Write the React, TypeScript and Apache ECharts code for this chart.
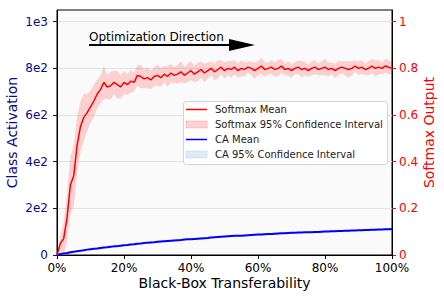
import React, { useEffect, useRef } from "react";
import * as echarts from "echarts";

// Black-box transferability (%), one sample per percent
const transferPct: number[] = Array.from({ length: 101 }, (_, i) => i);

// Softmax output mean (right axis)
const softmaxMean: number[] = [
  0, 0.05, 0.07, 0.16, 0.3, 0.34, 0.47, 0.55, 0.59, 0.61,
  0.635, 0.66, 0.69, 0.71, 0.74, 0.72, 0.725, 0.74, 0.73, 0.72,
  0.74, 0.73, 0.745, 0.74, 0.77, 0.765, 0.755, 0.76, 0.75, 0.765,
  0.77, 0.76, 0.775, 0.765, 0.78, 0.77, 0.775, 0.785, 0.77, 0.78,
  0.79, 0.775, 0.785, 0.795, 0.78, 0.79, 0.8, 0.785, 0.795, 0.805,
  0.79, 0.8, 0.795, 0.805, 0.79, 0.8, 0.795, 0.805, 0.8, 0.79,
  0.8, 0.81, 0.795, 0.8, 0.805, 0.795, 0.8, 0.81, 0.795, 0.8,
  0.79, 0.8, 0.805, 0.795, 0.8, 0.79, 0.8, 0.805, 0.795, 0.8,
  0.805, 0.795, 0.8, 0.79, 0.8, 0.805, 0.8, 0.795, 0.8, 0.81,
  0.8, 0.805, 0.795, 0.8, 0.81, 0.8, 0.805, 0.8, 0.81, 0.805,
  0.8,
];

// Softmax 95% CI half-width
const softmaxHalf: number[] = [
  0, 0.03, 0.07, 0.1, 0.12, 0.13, 0.12, 0.11, 0.1, 0.08,
  0.07, 0.07, 0.06, 0.06, 0.07, 0.05, 0.06, 0.05, 0.06, 0.05,
  0.05, 0.045, 0.05, 0.04, 0.045, 0.05, 0.04, 0.045, 0.04, 0.04,
  0.045, 0.04, 0.035, 0.045, 0.04, 0.035, 0.04, 0.045, 0.035, 0.04,
  0.04, 0.035, 0.04, 0.035, 0.04, 0.035, 0.03, 0.035, 0.04, 0.03,
  0.035, 0.03, 0.035, 0.03, 0.03, 0.035, 0.03, 0.025, 0.03, 0.035,
  0.03, 0.035, 0.03, 0.025, 0.03, 0.03, 0.035, 0.03, 0.025, 0.03,
  0.03, 0.025, 0.03, 0.035, 0.03, 0.025, 0.03, 0.03, 0.025, 0.03,
  0.035, 0.03, 0.025, 0.03, 0.03, 0.025, 0.03, 0.035, 0.03, 0.025,
  0.03, 0.03, 0.025, 0.03, 0.03, 0.035, 0.03, 0.025, 0.03, 0.03,
  0.025,
];

// Class activation mean (left axis)
const caMean: number[] = [
  0, 4, 7, 9, 12, 14, 16, 18, 20, 23,
  25, 27, 28, 30, 32, 33, 35, 37, 38, 40,
  42, 43, 45, 46, 48, 49, 51, 53, 54, 55,
  57, 58, 59, 60, 61, 62, 63, 64, 66, 67,
  68, 69, 70, 71, 72, 73, 75, 76, 77, 78,
  79, 80, 81, 82, 82, 83, 84, 85, 86, 87,
  88, 88, 89, 90, 90, 91, 92, 93, 93, 94,
  95, 95, 96, 96, 97, 98, 98, 99, 99, 100,
  101, 101, 102, 102, 103, 103, 104, 104, 105, 105,
  106, 106, 107, 107, 108, 108, 109, 109, 110, 110,
  111,
];

// Class activation 95% CI half-width
const caHalf: number[] = [
  0, 1, 1, 2, 2, 2, 2, 3, 3, 3,
  3, 3, 3, 3, 3, 3, 3, 4, 4, 4,
  4, 4, 4, 4, 4, 4, 4, 4, 4, 4,
  4, 4, 4, 4, 4, 4, 4, 4, 4, 4,
  4, 4, 4, 4, 4, 4, 4, 4, 4, 4,
  4, 4, 4, 4, 4, 4, 4, 4, 4, 4,
  4, 4, 4, 4, 4, 4, 4, 4, 4, 4,
  4, 4, 4, 4, 4, 4, 4, 4, 4, 4,
  4, 4, 4, 4, 4, 4, 4, 4, 4, 4,
  4, 4, 4, 4, 4, 4, 4, 4, 4, 4,
  4,
];

const leftTicks = [0, 200, 400, 600, 800, 1000];
const leftTickLabels = ["0", "2e2", "4e2", "6e2", "8e2", "1e3"];
const rightTicks = [0, 0.2, 0.4, 0.6, 0.8, 1];
const rightTickLabels = ["0", "0.2", "0.4", "0.6", "0.8", "1"];
const legendLabels = [
  "Softmax Mean",
  "Softmax 95% Confidence Interval",
  "CA Mean",
  "CA 95% Confidence Interval",
];
const annotationText = "Optimization Direction";

const FONT = "DejaVu Sans";
const LEFT_COLOR = "#0a0a8c";
const RIGHT_COLOR = "#ff0000";
const SM_BAND = "rgba(255,0,0,0.17)";
const CA_BAND = "rgba(135,190,230,0.3)";

function bandSeries(mean: number[], half: number[], yAxisIndex: number, color: string, z: number) {
  const data = transferPct.map((x, i) => [x, Math.max(0, mean[i] - half[i]), mean[i] + half[i]]);
  return {
    type: "custom",
    yAxisIndex,
    z,
    silent: true,
    data,
    encode: { x: 0, y: [1, 2] },
    renderItem: (params: any, api: any) => {
      if (params.dataIndex !== 0) return null;
      const upper = data.map((d) => api.coord([d[0], d[2]]));
      const lower = data.map((d) => api.coord([d[0], d[1]])).reverse();
      return {
        type: "polygon",
        shape: { points: upper.concat(lower) },
        style: { fill: color, stroke: "none" },
      };
    },
  };
}

export default function App() {
  const ref = useRef<HTMLDivElement>(null);

  useEffect(() => {
    if (!ref.current) return;
    const chart = echarts.init(ref.current, undefined, { renderer: "svg" });

    const pairs = (arr: number[]) => transferPct.map((x, i) => [x, arr[i]]);

    const leftFmt = (v: number) => {
      const idx = leftTicks.indexOf(v);
      return idx >= 0 ? leftTickLabels[idx] : "";
    };
    const rightFmt = (v: number) => {
      const idx = rightTicks.findIndex((t) => Math.abs(t - v) < 1e-9);
      return idx >= 0 ? rightTickLabels[idx] : "";
    };

    const rowsY = [109.5, 124.5, 139.5, 154.5];

    chart.setOption({
      animation: false,
      grid: {
        left: 57,
        right: 52,
        top: 10,
        bottom: 45,
        containLabel: false,
        outerBoundsMode: "none",
        show: true,
        backgroundColor: "#fafafa",
        borderColor: "#000",
        borderWidth: 1,
      },
      xAxis: {
        type: "value",
        min: 0,
        max: 100,
        interval: 20,
        name: "Black-Box Transferability",
        nameLocation: "middle",
        nameGap: 21,
        nameMoveOverlap: false,
        nameTextStyle: { fontFamily: FONT, fontSize: 14, color: "#000" },
        axisLine: { lineStyle: { color: "#000", width: 1 } },
        axisTick: { length: 4, lineStyle: { color: "#000" } },
        axisLabel: {
          fontFamily: FONT,
          fontSize: 12,
          color: "#000",
          margin: 7,
          formatter: (v: number) => `${v}%`,
        },
        splitLine: { show: false },
      },
      yAxis: [
        {
          type: "value",
          min: 0,
          max: 1050,
          interval: 200,
          position: "left",
          name: "Class Activation",
          nameLocation: "middle",
          nameGap: 38,
          nameMoveOverlap: false,
          nameTextStyle: { fontFamily: FONT, fontSize: 14, color: LEFT_COLOR },
          axisLine: { show: true, lineStyle: { color: "#000", width: 1 } },
          axisTick: {
            show: true,
            length: 4,
            lineStyle: { color: LEFT_COLOR },
            customValues: leftTicks,
          },
          axisLabel: {
            fontFamily: FONT,
            fontSize: 12,
            color: LEFT_COLOR,
            margin: 9,
            customValues: leftTicks,
            formatter: leftFmt,
          },
          splitLine: { show: true, lineStyle: { color: "#e3e3e3", width: 1 } },
        },
        {
          type: "value",
          min: 0,
          max: 1.05,
          interval: 0.2,
          position: "right",
          name: "Softmax Output",
          nameLocation: "middle",
          nameGap: 30,
          nameRotate: 90,
          nameMoveOverlap: false,
          nameTextStyle: { fontFamily: FONT, fontSize: 14, color: RIGHT_COLOR },
          axisLine: { show: true, lineStyle: { color: "#000", width: 1 } },
          axisTick: {
            show: true,
            length: 4,
            lineStyle: { color: RIGHT_COLOR },
            customValues: rightTicks,
          },
          axisLabel: {
            fontFamily: FONT,
            fontSize: 12,
            color: RIGHT_COLOR,
            margin: 7,
            customValues: rightTicks,
            formatter: rightFmt,
          },
          splitLine: { show: false },
        },
      ],
      series: [
        bandSeries(caMean, caHalf, 0, CA_BAND, 2),
        {
          type: "line",
          yAxisIndex: 0,
          data: pairs(caMean),
          symbol: "none",
          lineStyle: { color: "#0000ff", width: 2 },
          z: 3,
        },
        bandSeries(softmaxMean, softmaxHalf, 1, SM_BAND, 4),
        {
          type: "line",
          yAxisIndex: 1,
          data: pairs(softmaxMean),
          symbol: "none",
          lineStyle: { color: "#ff0000", width: 1.5 },
          z: 5,
        },
      ],
      graphic: [
        {
          type: "text",
          z: 20,
          x: 89,
          y: 37,
          style: {
            text: annotationText,
            font: `12px "${FONT}"`,
            fill: "#000",
            verticalAlign: "middle",
          },
        },
        {
          type: "line",
          z: 20,
          shape: { x1: 89, y1: 45, x2: 231, y2: 45 },
          style: { stroke: "#000", lineWidth: 2 },
        },
        {
          type: "polygon",
          z: 20,
          shape: { points: [[229, 39], [255, 45], [229, 51]] },
          style: { fill: "#000" },
        },
        {
          type: "rect",
          z: 20,
          shape: { x: 183.5, y: 101.5, width: 204, height: 63, r: 3 },
          style: { fill: "rgba(255,255,255,0.85)", stroke: "#d4d4d4", lineWidth: 1 },
        },
        {
          type: "line",
          z: 21,
          shape: { x1: 186, y1: rowsY[0], x2: 207, y2: rowsY[0] },
          style: { stroke: "#ff0000", lineWidth: 1.5 },
        },
        {
          type: "rect",
          z: 21,
          shape: { x: 186, y: rowsY[1] - 3.5, width: 21, height: 7 },
          style: { fill: SM_BAND, stroke: "rgba(255,0,0,0.25)", lineWidth: 0.7 },
        },
        {
          type: "line",
          z: 21,
          shape: { x1: 186, y1: rowsY[2], x2: 207, y2: rowsY[2] },
          style: { stroke: "#0000ff", lineWidth: 1.5 },
        },
        {
          type: "rect",
          z: 21,
          shape: { x: 186, y: rowsY[3] - 3.5, width: 21, height: 7 },
          style: { fill: CA_BAND, stroke: "rgba(135,190,230,0.4)", lineWidth: 0.7 },
        },
        ...legendLabels.map((label, i) => ({
          type: "text",
          z: 21,
          x: 215,
          y: rowsY[i],
          style: {
            text: label,
            font: `10px "${FONT}"`,
            fill: "#222",
            verticalAlign: "middle",
          },
        })),
      ],
    });

    return () => chart.dispose();
  }, []);

  return (
    <div
      ref={ref}
      style={{ position: "fixed", left: 0, top: 0, width: 444, height: 300, background: "#fff" }}
    />
  );
}
